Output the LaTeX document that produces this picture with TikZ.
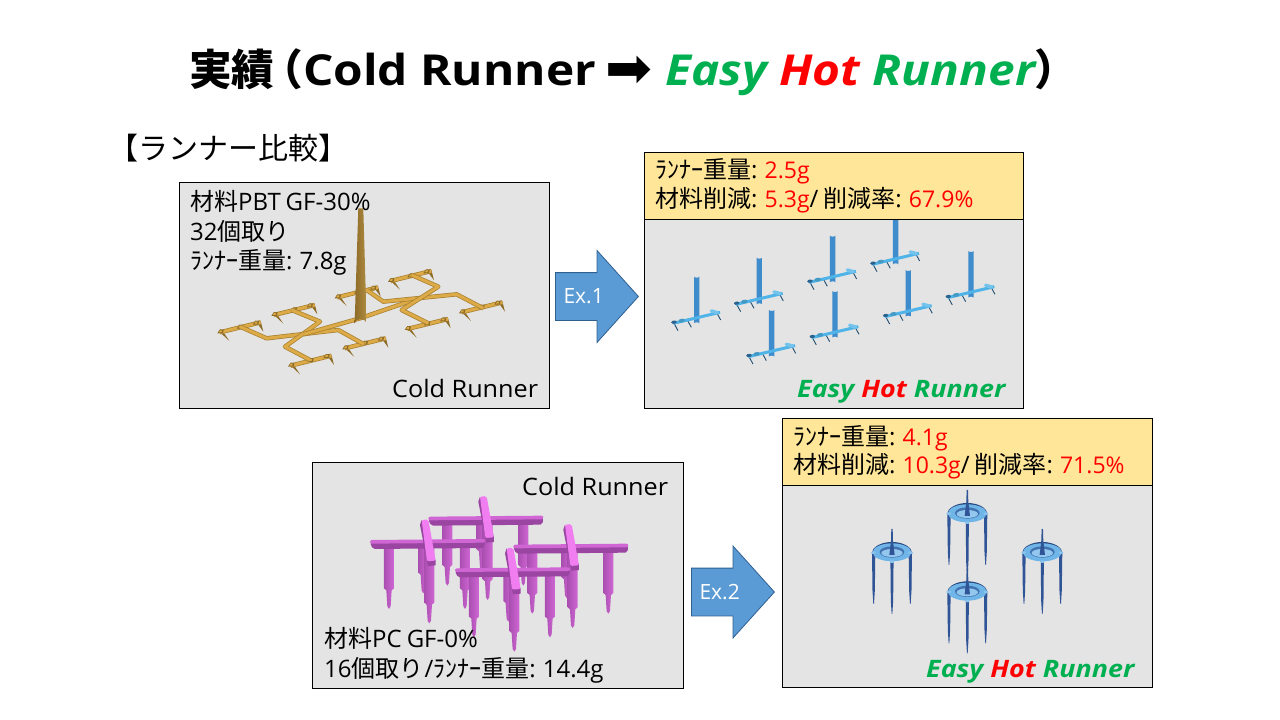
\documentclass[tikz,border=0pt]{standalone}
\usepackage{fontspec}
\setmainfont{Open Sans}[WordSpace=0.8]
\newfontfamily\jpfont{Noto Sans CJK JP}
\newfontfamily\arrowfont{DejaVu Sans}
\newfontfamily\coldfont{Open Sans}[FakeStretch=1.05]
\newfontfamily\widefont{Open Sans}[FakeStretch=1.12]
\newcommand{\jp}[1]{{\jpfont #1}}
\newcommand{\val}[1]{{\fontsize{23}{28}\selectfont\color{red}#1}}
\usetikzlibrary{shapes.arrows}
\definecolor{boxgray}{HTML}{E4E4E4}
\definecolor{boxyellow}{HTML}{FFE699}
\definecolor{ehrgreen}{HTML}{00B050}
\definecolor{arrowblue}{HTML}{5B9BD5}
\definecolor{arrowedge}{HTML}{2F5F8F}
\definecolor{runnerdark}{HTML}{A67F2E}
\definecolor{runnerlight}{HTML}{DDAA48}
\definecolor{sprueblue}{HTML}{3E8CCB}
\definecolor{barblue}{HTML}{50B4E8}
\definecolor{pinkdark}{HTML}{9A45A2}
\definecolor{pinkmid}{HTML}{D066D4}
\definecolor{pinklight}{HTML}{F07EF0}
\definecolor{legblue}{HTML}{2F5597}
\definecolor{ringblue}{HTML}{6FB5E8}
\tikzset{
  panel/.style = {
    draw, line width=.8pt, fill=boxgray, inner sep=0pt, anchor=north west},
  infobar/.style = {
    panel, fill=boxyellow},
  txt/.style = {
    anchor=base west, inner sep=0pt, font=\fontsize{24}{28}\selectfont},
  coldtxt/.style = {
    txt, font=\fontsize{24}{28}\selectfont\coldfont},
  ehr/.style = {
    txt, font=\fontsize{24}{28}\selectfont\widefont\bfseries\itshape, text=ehrgreen},
  titletxt/.style = {
    anchor=base west, inner sep=0pt, font=\fontsize{42.67}{50}\selectfont\bfseries},
  exarrow/.style = {
    single arrow, draw=arrowedge, fill=arrowblue, text=white, line width=.8pt,
    minimum height=83pt, text height=30.5pt, text depth=16.5pt,
    single arrow head extend=22pt, single arrow tip angle=96,
    inner sep=0pt, anchor=west, font=\fontsize{21}{24}\selectfont},
  runnerline/.style = {
    draw=runnerdark, line width=4.4pt, line join=round,
    postaction={draw=runnerlight, line width=3pt}},
  goldbar/.pic = {
    \fill[runnerdark!85!black] (-4,-4) -- (8,-4) -- (28,26) -- cycle;
    \fill[runnerdark!85!black] (108,-32) -- (122,-34) -- (130,-2) -- cycle;
    \draw[runnerline] (0,0) -- (122,-30);
    \foreach \x/\y in {0/0,58/-14,106/-26}{
      \fill[runnerdark!85!black] (\x-8,\y+3) -- (\x,\y-9) -- (\x+11,\y-8) -- (\x+9,\y+3) -- cycle;
      \fill[runnerlight] (\x-3,\y) -- (\x,\y-6) -- (\x+6,\y-6) -- (\x+5,\y) -- cycle;
    }
  },
  hottee/.pic = {
    \fill[sprueblue] (-8,0) arc (180:0:8 and 3) -- (8,140) arc (0:-180:8 and 3) -- cycle;
    \foreach \x/\y in {-68/140,-28/130,60/108}{
      \draw[sprueblue!55!black, line width=.9pt] (\x,\y) -- (\x+12,\y+22);
    }
    \draw[barblue, line width=3pt] (-70,140) -- (70,107);
    \draw[barblue!80!white, line width=3.5pt, line cap=round] (44,103) -- (62,108);
    \draw[sprueblue!70!black, line width=3pt, line cap=round] (-72,137) -- (-64,136);
    \draw[barblue!85!black, line width=3.5pt, line cap=round] (-50,133) -- (-40,131);
  },
  pinkunit/.pic = {
    \foreach \x/\y in {160/150,57/197,285/197,178/240}{
      \shade[left color=pinkdark!70!pinkmid, right color=pinkmid]
        (\x-15,0) -- (\x+15,0) -- (\x+15,\y-62) -- (\x+8,\y-56)
        -- (\x+5,\y-8) -- (\x,\y) -- (\x-5,\y-8) -- (\x-8,\y-56)
        -- (\x-15,\y-62) -- cycle;
    }
    \fill[pinkdark, rounded corners=2pt] (0,-3) -- (345,-6) -- (342,14) -- (8,17) -- cycle;
    \fill[pinkmid, rounded corners=2pt] (0,-10) -- (345,-13) -- (345,-2) -- (0,1) -- cycle;
    \fill[pinkdark] (155,-70) -- (150,-55) -- (174,68) -- (197,66) -- (197,52) -- cycle;
    \fill[pinklight, rounded corners=2pt] (155,-70) -- (175,-72) -- (197,52) -- (171,54) -- cycle;
  },
  hotring/.pic = {
    \foreach \x/\y in {-55/155,55/155,0/185}{
      \fill[legblue] (\x-5,0) -- (\x+5,0) -- (\x+3.5,\y-40) -- (\x+1,\y) -- (\x-1,\y) -- (\x-3.5,\y-40) -- cycle;
    }
    \draw[legblue!85!black, line width=4pt] (-55,5) arc (180:360:55 and 30);
    \fill[ringblue] (0,0) ellipse (58 and 27);
    \fill[legblue!70!ringblue] (0,-1) ellipse (37 and 17);
    \fill[ringblue!75!white] (0,2) ellipse (32 and 12);
    \foreach \x/\y in {-56/1,56/1,0/28}{
      \fill[ringblue!80!white] (\x,\y) ellipse (7 and 4);
    }
    \fill[legblue] (-8,8) -- (8,8) -- (3,-35) -- (2,-70) -- (-2,-70) -- (-3,-35) -- cycle;
  }
}

\begin{document}
\begin{tikzpicture}[x=1pt,y=-1pt]
\useasboundingbox (0,0) rectangle (1280,720);

\node[titletxt] (titlehead) at (189,85) {\jp{実績}\hspace{-14pt}\jp{（}};
\node[titletxt, font=\fontsize{42.67}{50}\selectfont\widefont\bfseries] (titlecold) at (303,85) {Cold Runner};
\node[titletxt, font=\fontsize{56}{60}\selectfont\arrowfont] (titlearrow) at (605,87) {➡};
\node[titletxt, font=\fontsize{42.67}{50}\selectfont\widefont\bfseries\itshape, text=ehrgreen] (titleehr) at (665,85)
  {Easy \textcolor{red}{Hot} Runner};
\node[titletxt] (titleend) at (1034,85) {\jp{）}};
\node[anchor=base west, inner sep=0pt, font=\fontsize{30}{34}\selectfont] (heading) at (108,159) {\jp{【ランナー比較】}};

\node[panel, minimum width=370pt, minimum height=226pt] (coldA) at (179,182) {};
\node[panel, minimum width=379pt, minimum height=189pt] (hotA) at (644,219) {};
\node[panel, minimum width=371pt, minimum height=226pt] (coldB) at (312,462) {};
\node[panel, minimum width=370pt, minimum height=202pt] (hotB) at (782,485) {};

% Ex.1 cold runner, traced in 1/3 px
\begin{scope}[shift={(170,175)},x=.3333pt,y=-.3333pt]
\foreach \x/\y in {502/367,662/318,312/420,150/472,525/520,362/572,875/412,712/462}{
 \pic at (\x,\y) {goldbar};
}
\draw[runnerline] (210,455) -- (290,490) -- (505,465) -- (582,508);
\draw[runnerline] (365,405) -- (450,440) -- (345,515) -- (420,555);
\draw[runnerline] (400,478) -- (570,430) -- (745,370);
\draw[runnerline] (590,345) -- (640,380) -- (860,358) -- (940,400);
\draw[runnerline] (725,300) -- (805,335) -- (695,405) -- (775,445);
\shade[left color=runnerdark!85!black, right color=runnerdark!90!white]
 (565,100) -- (580,100) -- (590,445) arc (0:-180:18 and 12) -- cycle;
\end{scope}

% Ex.1 hot runner
\begin{scope}[shift={(640,145)},x=.3333pt,y=-.3333pt]
\foreach \x/\y in {170/395,358/338,578/272,767/218,993/318,395/495,585/438,805/375}{
 \pic at (\x,\y) {hottee};
}
\end{scope}

% Ex.2 cold runner
\begin{scope}[shift={(310,460)},x=.3333pt,y=-.3333pt]
\foreach \x/\y in {355/180,180/250,610/264,435/335}{
 \pic at (\x,\y) {pinkunit};
}
\end{scope}

% Ex.2 hot runner
\begin{scope}[shift={(780,415)},x=.3333pt,y=-.3333pt]
\foreach \x/\y in {562/295,336/412,787/412,562/530}{
 \pic at (\x,\y) {hotring};
}
\end{scope}

\node[infobar, minimum width=379pt, minimum height=67pt] (infoA) at (644,152) {};
\node[infobar, minimum width=370pt, minimum height=67pt] (infoB) at (782,418) {};

\node[exarrow] (exA) at (555,296.5) {\hspace*{-5pt}Ex.1};
\node[exarrow] (exB) at (691,592) {\hspace*{-5pt}Ex.2};

\node[txt] (materialA) at (190,210) {\jp{材料}PBT GF-30\%};
\node[txt] (cavityA) at (190,240) {32\jp{個取り}};
\node[txt] (weightA) at (190,269) {\jp{ﾗﾝﾅｰ重量}: 7.8g};
\node[coldtxt] (labelA) at (392,397) {Cold Runner};

\node[txt] (infoAone) at (655,178) {\jp{ﾗﾝﾅｰ重量}: \val{2.5g}};
\node[txt] (infoAtwo) at (655,207) {\jp{材料削減}: \val{5.3g}/ \jp{削減率}: \val{67.9\%}};
\node[ehr] (ehrA) at (797,397) {Easy \textcolor{red}{Hot} Runner};

\node[coldtxt] (labelB) at (522,495) {Cold Runner};
\node[txt] (materialB) at (324,647) {\jp{材料}PC GF-0\%};
\node[txt] (cavityB) at (324,677) {16\jp{個取り}\hspace{1pt}/\jp{ﾗﾝﾅｰ重量}: 14.4g};

\node[txt] (infoBone) at (793,445) {\jp{ﾗﾝﾅｰ重量}: \val{4.1g}};
\node[txt] (infoBtwo) at (793,473) {\jp{材料削減}: \val{10.3g}/ \jp{削減率}: \val{71.5\%}};
\node[ehr] (ehrB) at (926,677) {Easy \textcolor{red}{Hot} Runner};
\end{tikzpicture}
\end{document}
